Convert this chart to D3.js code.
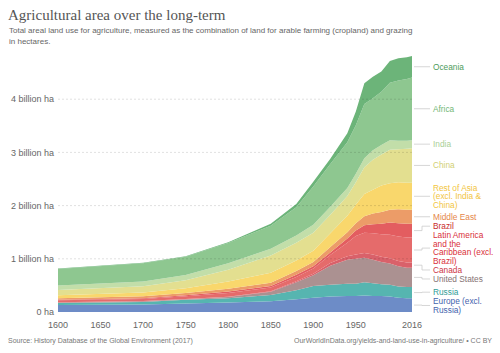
<!DOCTYPE html>
<html>
<head>
<meta charset="UTF-8">
<title>Agricultural area over the long-term</title>
<style>
  body { margin: 0; background: #fff; }
  svg text { font-family: "Liberation Sans", Arial, sans-serif; }
  .title { font-family: "Liberation Serif", "DejaVu Serif", serif; font-size: 15px; fill: #555; }
  .subtitle { font-size: 8px; fill: #666; }
  .tick-label { font-size: 9px; fill: #666; }
  .legend-label { font-size: 8.3px; }
  .footer { font-size: 7px; fill: #777; }
</style>
</head>
<body>
<div id="chart"></div>
<script src="https://cdn.jsdelivr.net/npm/d3@7"></script>
<script>
// agricultural land, billion hectares
const years = [1600, 1700, 1750, 1800, 1850, 1880, 1900, 1920, 1940, 1950, 1960, 1970, 1980, 1990, 2000, 2010, 2016];

const europe       = [0.13, 0.14, 0.16, 0.18, 0.20, 0.24, 0.27, 0.29, 0.30, 0.30, 0.31, 0.30, 0.30, 0.29, 0.27, 0.26, 0.26];
const russia       = [0.04, 0.05, 0.07, 0.08, 0.12, 0.17, 0.22, 0.22, 0.23, 0.23, 0.25, 0.24, 0.22, 0.22, 0.21, 0.21, 0.21];
const unitedStates = [0.01, 0.01, 0.01, 0.02, 0.06, 0.15, 0.20, 0.36, 0.45, 0.47, 0.46, 0.44, 0.42, 0.40, 0.38, 0.36, 0.36];
const canada       = [0.005, 0.005, 0.005, 0.005, 0.01, 0.02, 0.03, 0.05, 0.07, 0.08, 0.09, 0.10, 0.10, 0.10, 0.10, 0.10, 0.10];
const latinAmerica = [0.035, 0.04, 0.05, 0.07, 0.07, 0.08, 0.10, 0.15, 0.25, 0.35, 0.38, 0.40, 0.42, 0.44, 0.46, 0.47, 0.47];
const brazil       = [0.01, 0.015, 0.02, 0.03, 0.03, 0.04, 0.04, 0.05, 0.08, 0.10, 0.14, 0.17, 0.20, 0.23, 0.25, 0.26, 0.26];
const middleEast   = [0.03, 0.035, 0.04, 0.05, 0.06, 0.07, 0.08, 0.10, 0.12, 0.14, 0.17, 0.20, 0.22, 0.24, 0.26, 0.26, 0.26];
const restOfAsia   = [0.055, 0.07, 0.09, 0.14, 0.19, 0.20, 0.21, 0.26, 0.31, 0.35, 0.42, 0.45, 0.50, 0.50, 0.51, 0.51, 0.51];
const china        = [0.10, 0.12, 0.15, 0.22, 0.32, 0.33, 0.34, 0.35, 0.37, 0.42, 0.50, 0.56, 0.58, 0.63, 0.62, 0.64, 0.65];
const india        = [0.085, 0.09, 0.10, 0.12, 0.13, 0.14, 0.15, 0.15, 0.15, 0.16, 0.17, 0.18, 0.18, 0.18, 0.16, 0.15, 0.15];
const africa       = [0.31, 0.34, 0.345, 0.38, 0.43, 0.53, 0.72, 0.80, 0.86, 0.91, 1.02, 0.98, 1.00, 1.08, 1.13, 1.16, 1.18];
const oceania      = [0.01, 0.01, 0.01, 0.015, 0.04, 0.06, 0.09, 0.10, 0.17, 0.26, 0.39, 0.40, 0.38, 0.41, 0.42, 0.41, 0.40];

const yTicks = [0, 1, 2, 3, 4];
const xTicks = [1600, 1650, 1700, 1750, 1800, 1850, 1900, 1950, 2016];

// stack order, bottom to top
const series = [
    {key: "europe",       values: europe,       label: ["Europe (excl.", "Russia)"],                                  fill: "#6d8cc7", text: "#4463ad"},
    {key: "russia",       values: russia,       label: ["Russia"],                                                    fill: "#56b5b0", text: "#2f9c96"},
    {key: "unitedStates", values: unitedStates, label: ["United States"],                                             fill: "#ab9191", text: "#867373"},
    {key: "canada",       values: canada,       label: ["Canada"],                                                    fill: "#d9616a", text: "#cc3545"},
    {key: "latinAmerica", values: latinAmerica, label: ["Latin America", "and the", "Caribbean (excl.", "Brazil)"],   fill: "#e56b6b", text: "#d9303a"},
    {key: "brazil",       values: brazil,       label: ["Brazil"],                                                    fill: "#e35d60", text: "#c92c2c"},
    {key: "middleEast",   values: middleEast,   label: ["Middle East"],                                               fill: "#ec9c68", text: "#e5874a"},
    {key: "restOfAsia",   values: restOfAsia,   label: ["Rest of Asia", "(excl. India &", "China)"],                 fill: "#f9d76c", text: "#f2c53e"},
    {key: "china",        values: china,        label: ["China"],                                                     fill: "#e3df90", text: "#d2cf73"},
    {key: "india",        values: india,        label: ["India"],                                                     fill: "#c2dea9", text: "#a9cf96"},
    {key: "africa",       values: africa,       label: ["Africa"],                                                    fill: "#8ec790", text: "#72b776"},
    {key: "oceania",      values: oceania,      label: ["Oceania"],                                                   fill: "#6cb479", text: "#4d9c5b"}
];

const width = 500, height = 353;

const table = years.map(function (yr, i) {
    const row = {year: yr};
    series.forEach(function (s) { row[s.key] = s.values[i]; });
    return row;
});

const x = d3.scaleLinear().domain([1600, 2016]).range([58, 412]);
const y = d3.scaleLinear().domain([0, 5]).range([312, 46]);

const svg = d3.select("#chart")
    .append("svg")
    .attr("width", width)
    .attr("height", height);

svg.append("text").attr("class", "title").attr("x", 8).attr("y", 20)
    .text("Agricultural area over the long-term");
svg.append("text").attr("class", "subtitle").attr("x", 9).attr("y", 33)
    .text("Total areal land use for agriculture, measured as the combination of land for arable farming (cropland) and grazing");
svg.append("text").attr("class", "subtitle").attr("x", 9).attr("y", 43.5)
    .text("in hectares.");

const stacked = d3.stack().keys(series.map(s => s.key))(table);

const area = d3.area()
    .x(d => x(d.data.year))
    .y0(d => y(d[0]))
    .y1(d => y(d[1]));

svg.append("g")
    .selectAll("path")
    .data(stacked)
    .join("path")
    .attr("d", area)
    .attr("fill", (d, i) => series[i].fill);

// gridlines over the areas
svg.append("g")
    .selectAll("line")
    .data(yTicks.filter(t => t > 0))
    .join("line")
    .attr("x1", x(1600))
    .attr("x2", x(2016))
    .attr("y1", d => y(d))
    .attr("y2", d => y(d))
    .attr("stroke", "#000")
    .attr("stroke-opacity", 0.12)
    .attr("stroke-dasharray", "2,2");

svg.append("g")
    .selectAll("text")
    .data(yTicks)
    .join("text")
    .attr("class", "tick-label")
    .attr("x", 54)
    .attr("y", d => y(d))
    .attr("dy", "0.35em")
    .attr("text-anchor", "end")
    .text(d => d === 0 ? "0 ha" : d + " billion ha");

svg.append("g")
    .selectAll("text")
    .data(xTicks)
    .join("text")
    .attr("class", "tick-label")
    .attr("x", d => x(d))
    .attr("y", 328)
    .attr("text-anchor", "middle")
    .text(d => d);

// labels at the right end
const lineH = 8.6;
const last = stacked.map(function (layer, i) {
    const p = layer[layer.length - 1];
    const mid = y((p[0] + p[1]) / 2);
    const h = series[i].label.length * lineH;
    return {s: series[i], mid: mid, h: h, top: mid - h / 2};
}).reverse();

for (let iter = 0; iter < 300; iter++) {
    let moved = false;
    for (let i = 1; i < last.length; i++) {
        const a = last[i - 1], b = last[i];
        const overlap = a.top + a.h + 0.4 - b.top;
        if (overlap > 0.01) {
            a.top -= overlap / 2;
            b.top += overlap / 2;
            moved = true;
        }
    }
    if (!moved) break;
}

const legend = svg.append("g");

legend.selectAll("path")
    .data(last)
    .join("path")
    .attr("d", d => "M414," + d.mid + "H422V" + (d.top + d.h / 2) + "H430")
    .attr("fill", "none")
    .attr("stroke", "#ccc")
    .attr("stroke-width", 0.8);

legend.selectAll("text")
    .data(last)
    .join("text")
    .attr("class", "legend-label")
    .attr("fill", d => d.s.text)
    .each(function (d) {
        d3.select(this).selectAll("tspan")
            .data(d.s.label)
            .join("tspan")
            .attr("x", 433)
            .attr("y", (t, i) => d.top + lineH * i + lineH / 2)
            .attr("dy", "0.35em")
            .text(t => t);
    });

svg.append("text").attr("class", "footer").attr("x", 8).attr("y", 343)
    .text("Source: History Database of the Global Environment (2017)");
svg.append("text").attr("class", "footer").attr("x", 492).attr("y", 343)
    .attr("text-anchor", "end")
    .text("OurWorldInData.org/yields-and-land-use-in-agriculture/ • CC BY");
</script>
</body>
</html>
